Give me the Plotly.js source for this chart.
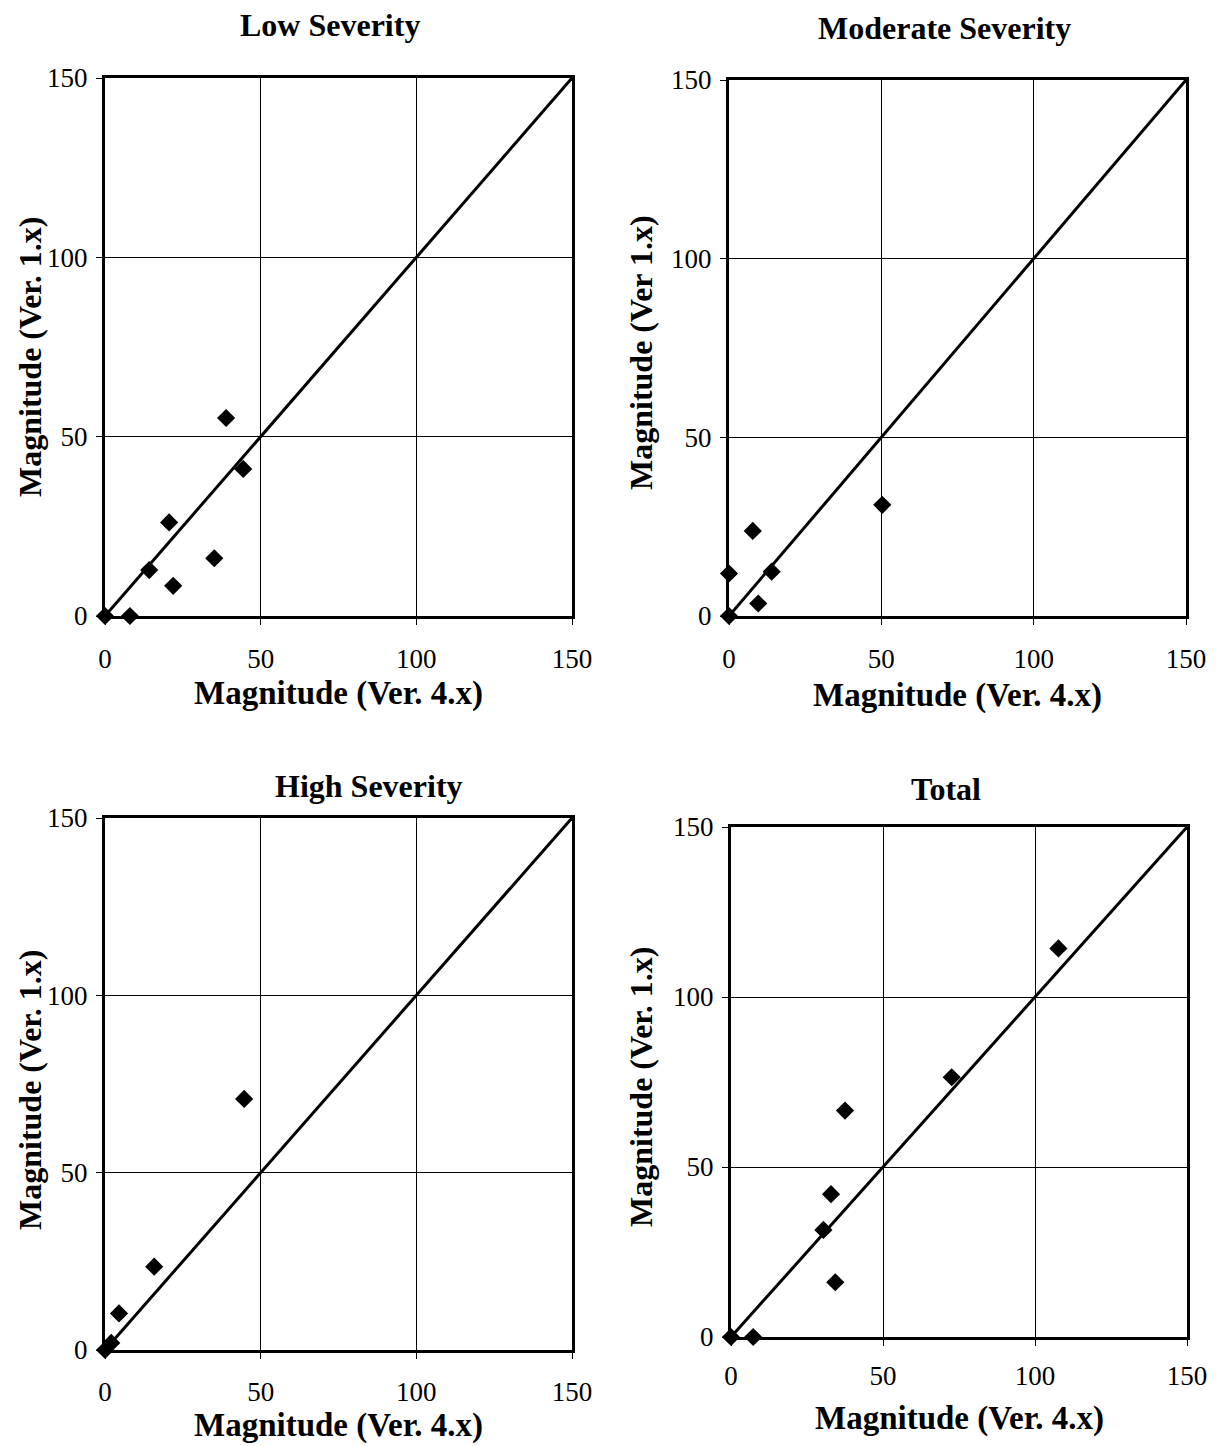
<!DOCTYPE html>
<html>
<head>
<meta charset="utf-8">
<script src="https://cdn.plot.ly/plotly-3.0.1.min.js"></script>
<style>html,body{margin:0;padding:0;background:#fff;}#chart{width:1221px;height:1446px;}</style>
</head>
<body>
<div id="chart"></div>
<script>
// ---- Data ----
const panelTitles = ["Low Severity", "Moderate Severity", "High Severity", "Total"];
const xTitles = ["Magnitude (Ver. 4.x)", "Magnitude (Ver. 4.x)", "Magnitude (Ver. 4.x)", "Magnitude (Ver. 4.x)"];
const yTitles = ["Magnitude (Ver. 1.x)", "Magnitude (Ver 1.x)", "Magnitude (Ver. 1.x)", "Magnitude (Ver. 1.x)"];

const lowX = [0, 8, 14.2, 21.9, 20.6, 35.1, 44.4, 38.9];
const lowY = [0, 0, 12.8, 8.4, 26.1, 16.1, 41.0, 55.2];

const modX = [0, 0, 7.8, 14.0, 9.6, 50.3];
const modY = [0, 11.9, 23.8, 12.4, 3.5, 31.1];

const highX = [0, 2, 4.5, 15.8, 44.7];
const highY = [0, 2, 10.3, 23.5, 70.8];

const totX = [0, 7.3, 34.3, 30.4, 32.9, 37.5, 72.6, 107.7];
const totY = [0, 0, 16.1, 31.5, 42.0, 66.6, 76.4, 114.3];

const refLine = [0, 150];       // y = x reference line
const tickVals = [0, 50, 100, 150];

// ---- Layout geometry (pixels) ----
const W = 1221, H = 1446;
const boxes = [
  {x0:105, x1:572, y0:78,  y1:616,  tx:330, ty:25,  axy:693,  ayx:30,  ayy:357,  sx:11},
  {x0:729, x1:1186, y0:80, y1:616,  tx:944, ty:28,  axy:695,  ayx:641, ayy:353,  sx:11},
  {x0:105, x1:572, y0:818, y1:1350, tx:369, ty:786, axy:1425, ayx:30,  ayy:1090, sx:10},
  {x0:731, x1:1187, y0:827, y1:1337, tx:946, ty:789, axy:1418, ayx:641, ayy:1087, sx:7}
];
const px = v => v / W;
const py = v => 1 - v / H;

const series = [[lowX, lowY], [modX, modY], [highX, highY], [totX, totY]];
const FONT = "Liberation Serif";

const traces = [];
const layout = {
  width: W, height: H,
  margin: {l:0, r:0, t:0, b:0},
  paper_bgcolor: "#fff", plot_bgcolor: "#fff",
  showlegend: false,
  font: {family: FONT, color: "#000", size: 27},
  annotations: []
};

series.forEach((s, i) => {
  const n = i + 1;
  const xa = n === 1 ? "x" : "x" + n;
  const ya = n === 1 ? "y" : "y" + n;
  traces.push({
    x: refLine, y: refLine, xaxis: xa, yaxis: ya,
    mode: "lines", line: {color: "#000", width: 3}, hoverinfo: "skip", cliponaxis: false
  });
  traces.push({
    x: s[0], y: s[1], xaxis: xa, yaxis: ya,
    mode: "markers", type: "scatter", cliponaxis: false,
    marker: {symbol: "diamond", size: 14, color: "#000"}
  });
  const b = boxes[i];
  const axCommon = {
    range: [0, 150], tickvals: tickVals, ticktext: tickVals.map(String),
    showgrid: true, gridcolor: "#000", gridwidth: 1,
    zeroline: false, showline: true, mirror: true, linecolor: "#000", linewidth: 3,
    ticks: "outside", ticklen: 6, tickcolor: "#000", tickwidth: 1,
    tickfont: {family: FONT, size: 27, color: "#000"}, fixedrange: true
  };
  layout["xaxis" + (n === 1 ? "" : n)] = Object.assign({}, axCommon, {
    domain: [px(b.x0), px(b.x1)], anchor: ya, ticklabelstandoff: b.sx
  });
  layout["yaxis" + (n === 1 ? "" : n)] = Object.assign({}, axCommon, {
    domain: [py(b.y1), py(b.y0)], anchor: xa, ticklabelstandoff: 3
  });
  layout.annotations.push({
    text: "<b>" + panelTitles[i] + "</b>", xref: "paper", yref: "paper",
    x: px(b.tx), y: py(b.ty), xanchor: "center", yanchor: "middle", showarrow: false,
    font: {family: FONT, size: 32, color: "#000"}
  });
  layout.annotations.push({
    text: "<b>" + xTitles[i] + "</b>", xref: "paper", yref: "paper",
    x: px((b.x0 + b.x1) / 2), y: py(b.axy), xanchor: "center", yanchor: "middle", showarrow: false,
    font: {family: FONT, size: 33, color: "#000"}
  });
  layout.annotations.push({
    text: "<b>" + yTitles[i] + "</b>", xref: "paper", yref: "paper",
    x: px(b.ayx), y: py(b.ayy), xanchor: "center", yanchor: "middle", showarrow: false,
    textangle: -90, font: {family: FONT, size: 32, color: "#000"}
  });
});

Plotly.newPlot("chart", traces, layout, {displayModeBar: false, staticPlot: true});
</script>
</body>
</html>
